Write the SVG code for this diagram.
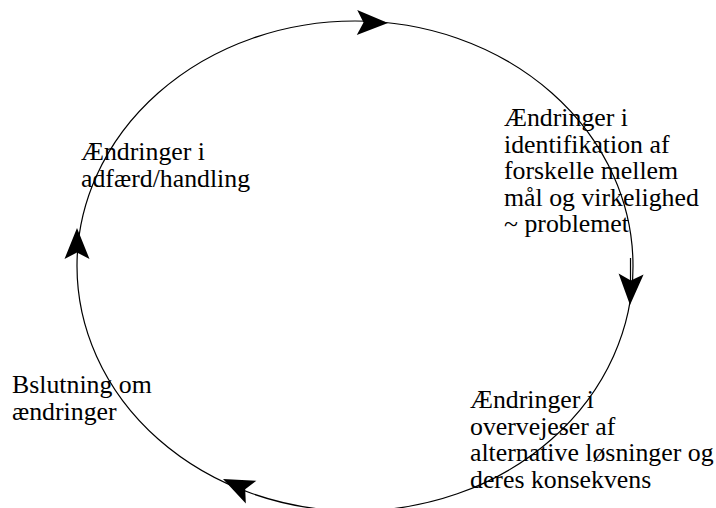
<svg xmlns="http://www.w3.org/2000/svg" width="716" height="508" viewBox="0 0 716 508">
  <style>
    .cycle { fill: none; stroke: #000; stroke-width: 1.2; }
    .head { fill: #000; stroke: none; }
  </style>
  <defs>
    <!-- arrowhead with its tip at the origin, pointing along +x -->
    <path id="ah" d="M0,0 L-31,-12.5 L-24.5,0 L-31,12.5 Z"/>
  </defs>
  <rect width="716" height="508" fill="#fff"/>

  <g id="connectors">
    <ellipse class="cycle" cx="355" cy="266" rx="278" ry="245"/>
    <line class="cycle" x1="630.5" y1="258" x2="630.5" y2="283"/>
    <use href="#ah" class="head" transform="translate(388,23) rotate(1)"/>
    <use href="#ah" class="head" transform="translate(630,305) rotate(92)"/>
    <use href="#ah" class="head" transform="translate(223,479) rotate(205)"/>
    <use href="#ah" class="head" transform="translate(77,228) rotate(-90)"/>
  </g>

  <g font-family="Liberation Serif, serif" font-size="25.8" fill="#000">
    <g id="node-problem">
      <text x="504" y="126">Ændringer i</text>
      <text x="504" y="152.5">identifikation af</text>
      <text x="504" y="179">forskelle mellem</text>
      <text x="504" y="205.5">mål og virkelighed</text>
      <text x="504" y="232">~ problemet</text>
    </g>

    <g id="node-alternatives">
      <text x="470" y="408">Ændringer i</text>
      <text x="470" y="434.5">overvejeser af</text>
      <text x="470" y="461">alternative løsninger og</text>
      <text x="470" y="487.5">deres konsekvens</text>
    </g>

    <g id="node-decision">
      <text x="12" y="393">Bslutning om</text>
      <text x="12" y="420">ændringer</text>
    </g>

    <g id="node-behaviour">
      <text x="81" y="160">Ændringer i</text>
      <text x="81" y="186.5">adfærd/handling</text>
    </g>
  </g>
</svg>
